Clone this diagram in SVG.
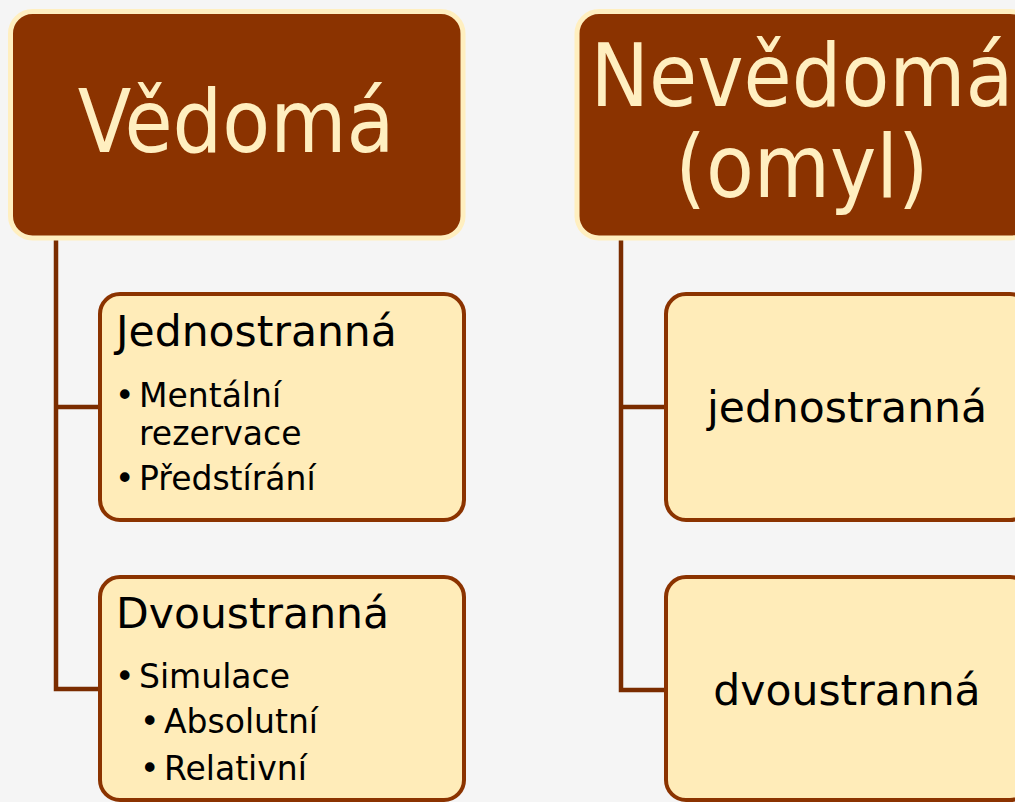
<svg xmlns="http://www.w3.org/2000/svg" width="1015" height="802" viewBox="0 0 1015 802">
<style>
.bg{fill:#f5f5f5}
.head rect{fill:#8b3300;stroke:#ffefc0;stroke-width:5}
.head text{fill:#ffefc0;font-family:"DejaVu Sans Condensed","DejaVu Sans",sans-serif;font-stretch:condensed;font-size:87px;text-anchor:middle}
.child rect{fill:#ffecb9;stroke:#8b3300;stroke-width:4}
.child text{fill:#000;font-family:"DejaVu Sans",sans-serif}
.h{font-size:42.5px}
.b{font-size:33px}
.c{font-size:42.5px;text-anchor:middle}
.conn path{fill:none;stroke:#7a2c00;stroke-width:4.5}
</style>
<rect class="bg" x="0" y="0" width="1015" height="802"/>
<g class="conn" id="connectors">
<path d="M56 238 V689 H100 M56 407 H100"/>
<path d="M621 238 V690 H666 M621 407 H666"/>
</g>
<g class="head" id="vedoma">
<rect x="10.5" y="11.5" width="452.5" height="226.5" rx="22"/>
<text x="236" y="152">Vědomá</text>
</g>
<g class="head" id="nevedoma">
<rect x="577" y="11.5" width="455" height="226.5" rx="22"/>
<text x="802" y="106">Nevědomá</text>
<text x="802" y="197">(omyl)</text>
</g>
<g class="child" id="jednostranna-l">
<rect x="100" y="294" width="364" height="226" rx="20"/>
<text class="h" x="116" y="346">Jednostranná</text>
<text class="b" x="115" y="407">•</text>
<text class="b" x="139" y="407">Mentální</text>
<text class="b" x="139" y="445">rezervace</text>
<text class="b" x="115" y="490">•</text>
<text class="b" x="139" y="490">Předstírání</text>
</g>
<g class="child" id="dvoustranna-l">
<rect x="100" y="577" width="364" height="223" rx="20"/>
<text class="h" x="116" y="628">Dvoustranná</text>
<text class="b" x="115" y="688">•</text>
<text class="b" x="139" y="688">Simulace</text>
<text class="b" x="140" y="733">•</text>
<text class="b" x="164" y="733">Absolutní</text>
<text class="b" x="140" y="780">•</text>
<text class="b" x="164" y="780">Relativní</text>
</g>
<g class="child" id="jednostranna-r">
<rect x="666" y="294" width="364" height="226" rx="20"/>
<text class="c" x="847" y="422">jednostranná</text>
</g>
<g class="child" id="dvoustranna-r">
<rect x="666" y="577" width="364" height="223" rx="20"/>
<text class="c" x="847" y="705">dvoustranná</text>
</g>
</svg>
